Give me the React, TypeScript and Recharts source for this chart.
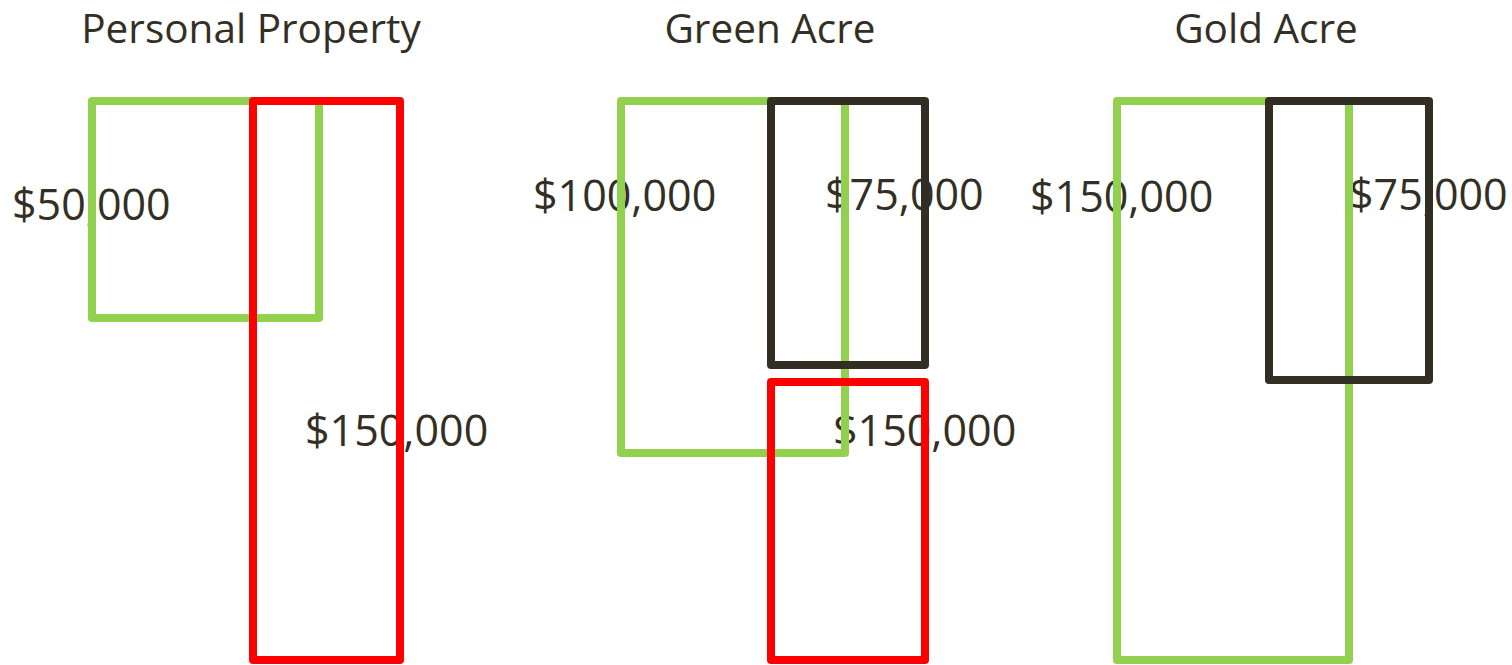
import React from "react";
import { ComposedChart, XAxis, YAxis, ReferenceArea } from "recharts";

// Panel titles
const groups = ["Personal Property", "Green Acre", "Gold Acre"];
const groupCenters = [251, 770, 1266];

// Outlined boxes (chart units: x across the slide, y down from the top)
const boxGroup = ["Personal Property", "Personal Property", "Green Acre", "Green Acre", "Green Acre", "Gold Acre", "Gold Acre"];
const boxSeries = ["green", "red", "green", "black", "red", "green", "black"];
const boxValues = [50000, 150000, 100000, 75000, 150000, 150000, 75000];
const boxX0 = [92, 253, 621, 771, 771, 1117, 1269];
const boxX1 = [319, 400, 845, 925, 925, 1349, 1429];
const boxY0 = [101, 101, 101, 101, 382, 101, 101];
const boxY1 = [318, 660, 453, 365, 660, 660, 380];

// Value label anchors
const labelX = [12, 305, 533, 825, 833, 1030, 1349];
const labelY = [220, 446, 211, 210, 446, 212, 210];

const seriesColor: Record<string, string> = {
  green: "#92D050",
  red: "#FF0000",
  black: "#322E23",
};
const drawOrder = [0, 1, 2, 3, 4, 5, 6];
const textColor = "#332F24";
const fmt = (v: number) => "$" + v.toLocaleString("en-US");

const Texts = () => (
  <g>
    {groups.map((g, i) => (
      <text
        key={g}
        x={groupCenters[i]}
        y={43}
        textAnchor="middle"
        fontFamily="'Open Sans', sans-serif"
        fontSize={40.5}
        fill={textColor}
      >
        {g}
      </text>
    ))}
    {boxValues.map((v, i) => (
      <text
        key={"l" + i}
        x={labelX[i]}
        y={labelY[i]}
        textAnchor="start"
        fontFamily="'Open Sans', sans-serif"
        fontSize={43}
        fill={textColor}
      >
        {fmt(v)}
      </text>
    ))}
  </g>
);

export default function App() {
  return (
    <div style={{ position: "fixed", left: 0, top: 0, width: 1512, height: 665, background: "#fff" }}>
      <ComposedChart width={1512} height={665} margin={{ top: 0, right: 0, bottom: 0, left: 0 }} data={[]}>
        <XAxis type="number" dataKey="x" domain={[0, 1512]} hide allowDataOverflow />
        <YAxis type="number" dataKey="y" domain={[0, 665]} reversed hide allowDataOverflow />
        <Texts />
        {drawOrder.map((i) => (
          <ReferenceArea
            key={boxGroup[i] + boxSeries[i]}
            x1={boxX0[i]}
            x2={boxX1[i]}
            y1={boxY0[i]}
            y2={boxY1[i]}
            fill="none"
            fillOpacity={0}
            stroke={seriesColor[boxSeries[i]]}
            strokeWidth={8}
            strokeOpacity={1}
            strokeLinejoin="round"
            ifOverflow="visible"
            isFront
          />
        ))}
      </ComposedChart>
    </div>
  );
}
